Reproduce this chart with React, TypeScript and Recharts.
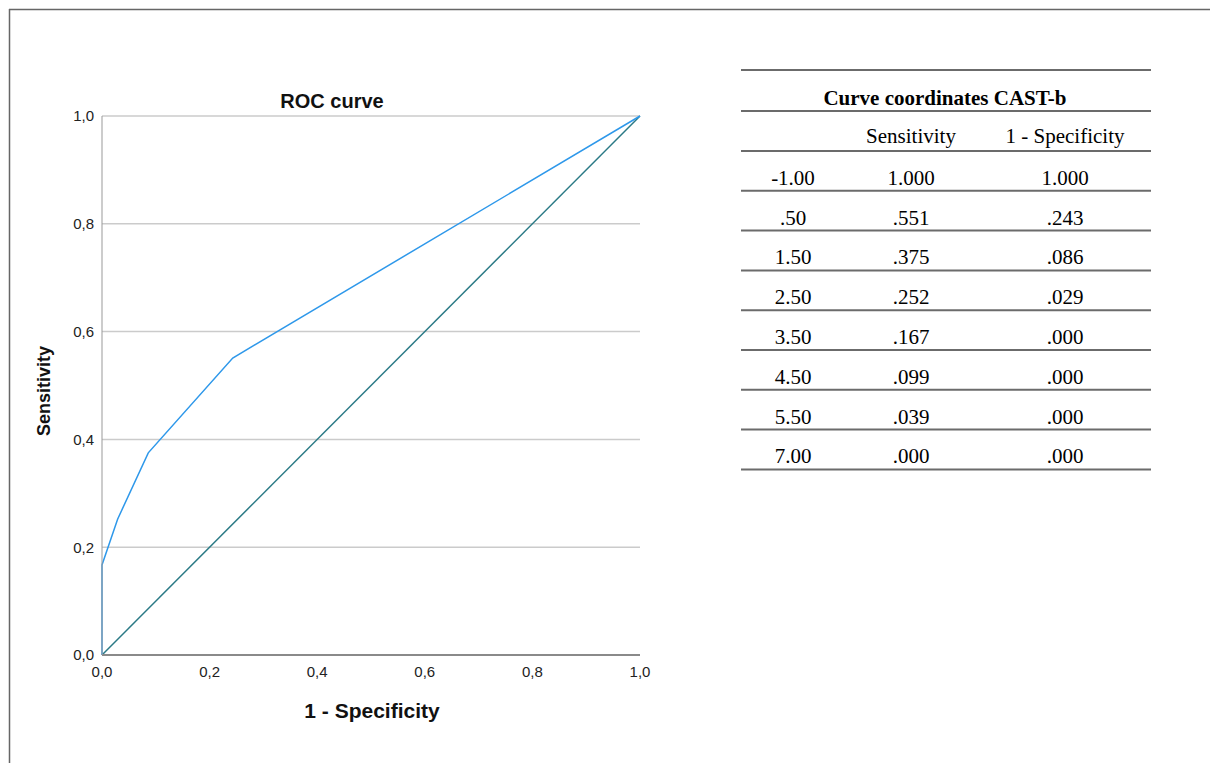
import React from 'react';
import { LineChart, Line, XAxis, YAxis, CartesianGrid } from 'recharts';

const cutoffs = [-1, 0.5, 1.5, 2.5, 3.5, 4.5, 5.5, 7];
const sensitivity = [1, 0.551, 0.375, 0.252, 0.167, 0.099, 0.039, 0];
const falsePositiveRate = [1, 0.243, 0.086, 0.029, 0, 0, 0, 0];
const axisTicks = [0, 0.2, 0.4, 0.6, 0.8, 1];
const diagonalX = [0, 1];

const rocPoints = cutoffs
  .map((_, i) => ({ x: falsePositiveRate[i], y: sensitivity[i] }))
  .reverse();
const diagonal = diagonalX.map((v) => ({ x: v, y: v }));

const fmt = (v: number, d: number) =>
  v.toFixed(d).replace(/^0\./, '.').replace(/^-0\./, '-.');
const commaTick = (v: number) => v.toFixed(1).replace('.', ',');

const SANS = '"Liberation Sans", Arial, sans-serif';
const SERIF = '"Liberation Serif", "Times New Roman", serif';

export default function App() {
  const rowTop = 151;
  const rowH = 39.8;
  const colX = [793, 911, 1065];
  const tableLeft = 741;
  const tableRight = 1151;
  const lineColor = '#6b6b6b';
  const tableLines = [70, 111, 151, ...cutoffs.map((_, i) => rowTop + rowH * (i + 1))];

  return (
    <div style={{ position: 'absolute', left: 0, top: 0, width: 1210, height: 763, background: '#fff', overflow: 'hidden' }}>
      <div style={{ position: 'absolute', left: 0, top: 0 }}>
        <LineChart
          width={700}
          height={763}
          margin={{ top: 116, right: 60, bottom: 78, left: 42 }}
        >
          <CartesianGrid horizontal vertical={false} stroke="#cbcbcb" strokeWidth={1.5} />
          <XAxis
            type="number"
            dataKey="x"
            domain={[0, 1]}
            ticks={axisTicks}
            tickFormatter={commaTick}
            height={30}
            tickLine={false}
            tickMargin={5}
            axisLine={{ stroke: '#8a8a8a', strokeWidth: 2 }}
            tick={{ fill: '#222', fontSize: 15, fontFamily: SANS }}
          />
          <YAxis
            type="number"
            dataKey="y"
            domain={[0, 1]}
            ticks={axisTicks}
            tickFormatter={commaTick}
            width={60}
            tickLine={false}
            axisLine={{ stroke: '#999', strokeWidth: 1 }}
            tick={{ fill: '#222', fontSize: 15, fontFamily: SANS }}
          />
          <Line
            data={diagonal}
            dataKey="y"
            type="linear"
            stroke="#2b7a86"
            strokeWidth={1.5}
            dot={false}
            isAnimationActive={false}
          />
          <Line
            data={rocPoints}
            dataKey="y"
            type="linear"
            stroke="#2e98ea"
            strokeWidth={1.5}
            dot={false}
            isAnimationActive={false}
          />
        </LineChart>
      </div>
      <svg width={1210} height={763} style={{ position: 'absolute', left: 0, top: 0, pointerEvents: 'none' }}>
        <line x1={9} y1={9.5} x2={1210} y2={9.5} stroke="#666" strokeWidth={1.5} />
        <line x1={9.5} y1={9} x2={9.5} y2={763} stroke="#666" strokeWidth={1.5} />
        <text x={332} y={108} textAnchor="middle" fontFamily={SANS} fontWeight="bold" fontSize={20} fill="#111">ROC curve</text>
        <text x={372} y={718} textAnchor="middle" fontFamily={SANS} fontWeight="bold" fontSize={21} fill="#111">1 - Specificity</text>
        <text transform="translate(50,391) rotate(-90)" textAnchor="middle" fontFamily={SANS} fontWeight="bold" fontSize={18} fill="#111">Sensitivity</text>

        {tableLines.map((y, i) => (
          <line key={i} x1={tableLeft} x2={tableRight} y1={y} y2={y} stroke={lineColor} strokeWidth={2} />
        ))}
        <text x={945} y={105} textAnchor="middle" fontFamily={SERIF} fontWeight="bold" fontSize={21} fill="#000">Curve coordinates CAST-b</text>
        <text x={colX[1]} y={143} textAnchor="middle" fontFamily={SERIF} fontSize={21} fill="#000">Sensitivity</text>
        <text x={colX[2]} y={143} textAnchor="middle" fontFamily={SERIF} fontSize={21} fill="#000">1 - Specificity</text>
        {cutoffs.map((c, i) => {
          const y = rowTop + rowH * (i + 1) - 6;
          return (
            <g key={i} fontFamily={SERIF} fontSize={21} fill="#000" textAnchor="middle">
              <text x={colX[0]} y={y}>{fmt(c, 2)}</text>
              <text x={colX[1]} y={y}>{fmt(sensitivity[i], 3)}</text>
              <text x={colX[2]} y={y}>{fmt(falsePositiveRate[i], 3)}</text>
            </g>
          );
        })}
      </svg>
    </div>
  );
}
